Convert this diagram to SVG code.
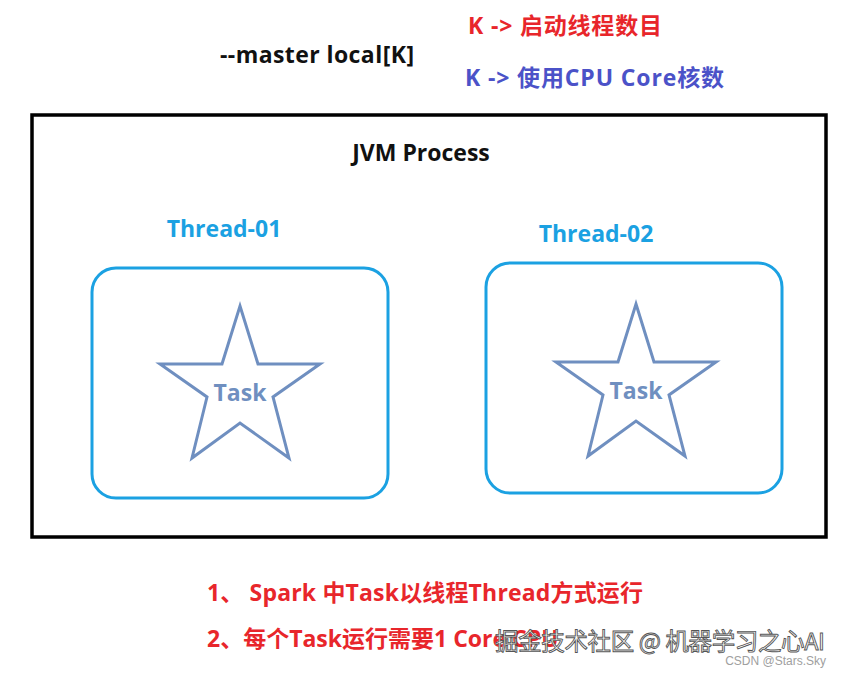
<svg xmlns="http://www.w3.org/2000/svg" width="844" height="675" viewBox="0 0 844 675">
<style>
.t{font-family:"Open Sans","Noto Sans CJK SC",sans-serif;font-weight:bold;font-size:23px}
.red{fill:#e8262b}
.blue{fill:#4b52c8}
.cyan{fill:#1ba1e2}
.thr{fill:none;stroke:#1ba1e2;stroke-width:3}
.star{fill:none;stroke:#6f8fc0;stroke-width:3;stroke-linejoin:miter}
.task{fill:#6f8fc0}
.wm{font-family:"Noto Sans CJK SC",sans-serif;font-size:23.5px;fill:#ffffff;stroke:#555;stroke-width:0.9}
.wm2{font-family:"Liberation Sans",sans-serif;font-size:12px;fill:#a0a0a0}
</style>
<rect width="844" height="675" fill="#ffffff"/>
<g id="header">
<text class="t" x="220" y="63" fill="#111" textLength="194">--master local[K]</text>
<text class="t red" x="468" y="34" textLength="194">K -&gt; 启动线程数目</text>
<text class="t blue" x="465" y="86" textLength="259">K -&gt; 使用CPU Core核数</text>
</g>
<g id="jvm">
<rect x="32" y="115" width="794" height="422" fill="none" stroke="#000" stroke-width="3.5"/>
<text class="t" x="421" y="161" text-anchor="middle" fill="#111">JVM Process</text>
</g>
<g id="thread1">
<text class="t cyan" x="224" y="237" text-anchor="middle">Thread-01</text>
<rect class="thr" x="92" y="268" width="296" height="230" rx="24"/>
<g id="task1">
<polygon class="star" points="240,306 258,364 320,364 273,397 289,458 240,423 192,458 207,397 160,364 222,364"/>
<text class="t task" x="240" y="401" text-anchor="middle">Task</text>
</g>
</g>
<g id="thread2">
<text class="t cyan" x="596" y="242" text-anchor="middle">Thread-02</text>
<rect class="thr" x="486" y="263" width="296" height="230" rx="24"/>
<g id="task2">
<polygon class="star" points="636,304 654,362 716,362 669,395 685,456 636,421 588,456 603,395 556,362 618,362"/>
<text class="t task" x="636" y="399" text-anchor="middle">Task</text>
</g>
</g>
<g id="notes">
<text class="t red" x="207" y="601" textLength="436">1、 Spark 中Task以线程Thread方式运行</text>
<text class="t red" x="207" y="647">2、每个Task运行需要1 Core CPU</text>
</g>
<g id="watermark">
<text class="wm" x="495" y="650" textLength="330">掘金技术社区 @ 机器学习之心AI</text>
<text class="wm2" x="826" y="665" text-anchor="end">CSDN @Stars.Sky</text>
</g>
<g id="connectors"/>
</svg>
